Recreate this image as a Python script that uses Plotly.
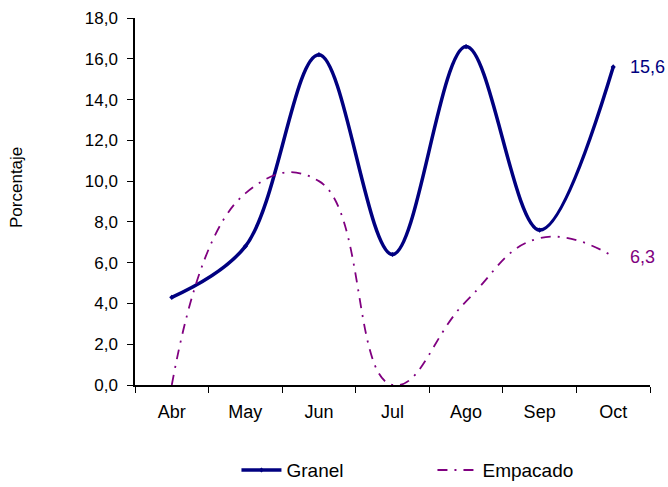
import plotly.graph_objects as go

# months and series
meses = ["Abr", "May", "Jun", "Jul", "Ago", "Sep", "Oct"]
granel = [4.3, 6.8, 16.2, 6.4, 16.6, 7.6, 15.6]
empacado = [0.0, 9.4, 10.0, 0.0, 4.1, 7.2, 6.3]

NAVY = "#000080"
PURPLE = "#800080"
FONT = "Liberation Sans, Arial, sans-serif"

fig = go.Figure()

fig.add_trace(go.Scatter(
    x=meses, y=granel, name="Granel",
    mode="lines+markers",
    line=dict(color=NAVY, width=3.5, shape="spline", smoothing=1.0),
    marker=dict(symbol="diamond", size=4, color=NAVY),
))
fig.add_trace(go.Scatter(
    x=meses, y=empacado, name="Empacado",
    mode="lines",
    line=dict(color=PURPLE, width=1.8, shape="spline", smoothing=1.3,
              dash="10px,7px,2px,7px"),
))

# last-point labels
for serie, color in [(granel, NAVY), (empacado, PURPLE)]:
    fig.add_annotation(
        x=meses[-1], y=serie[-1], text=f"{serie[-1]:.1f}".replace(".", ","),
        showarrow=False, xanchor="left", xshift=15,
        font=dict(family=FONT, size=18, color=color),
    )

# y axis title placed by hand (it sits a little above the middle)
fig.add_annotation(
    text="Porcentaje", xref="paper", yref="paper", x=-0.229, y=0.537,
    textangle=-90, showarrow=False, xanchor="center", yanchor="middle",
    font=dict(family=FONT, size=17, color="black"),
)

fig.update_layout(
    width=668, height=487,
    margin=dict(l=135, r=18, t=18, b=102, autoexpand=False),
    paper_bgcolor="white", plot_bgcolor="white",
    separators=",.",
    font=dict(family=FONT, size=17, color="black"),
    showlegend=True,
    legend=dict(
        orientation="h", x=0.197, xanchor="left", y=-0.232, yanchor="middle",
        font=dict(family=FONT, size=19, color="black"),
        entrywidth=141, entrywidthmode="pixels", itemwidth=40,
    ),
    xaxis=dict(
        type="category", range=[-0.5, 6.5], automargin=False,
        showline=True, linecolor="black", linewidth=1.5,
        ticks="outside", tickson="boundaries", ticklen=6, tickcolor="black",
        showgrid=False, zeroline=False,
        ticklabelstandoff=10,
        tickfont=dict(size=18),
    ),
    yaxis=dict(
        range=[0, 18], dtick=2, tickformat=".1f", automargin=False,
        showline=True, linecolor="black", linewidth=1.5,
        ticks="outside", ticklen=6, tickcolor="black",
        showgrid=False, zeroline=False,
        ticklabelstandoff=6,
        tickfont=dict(size=17),
    ),
)

# drop the default page margin so the figure fills the window exactly
fig.write_html(
    "out.html",
    config={"displayModeBar": False},
    post_script="document.body.style.margin='0';document.body.style.overflow='hidden';",
)
